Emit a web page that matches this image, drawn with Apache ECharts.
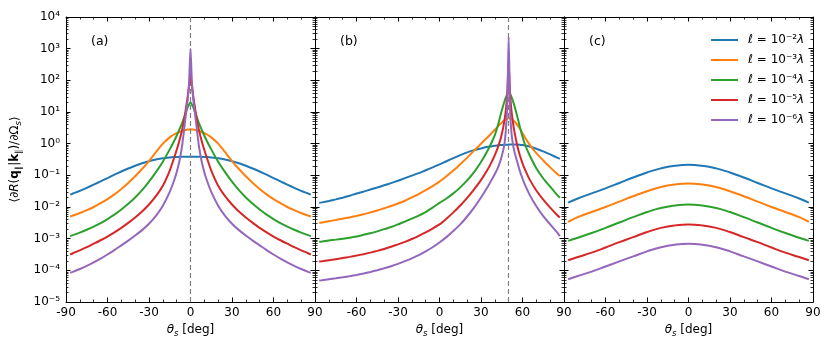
<!DOCTYPE html>
<html><head><meta charset="utf-8">
<script src="https://cdn.jsdelivr.net/npm/echarts@6/dist/echarts.min.js"></script>
<style>html,body{margin:0;padding:0;background:#fff}#c{width:830px;height:351px}</style>
</head><body><div id="c"></div>
<script>
// ---------------- data ----------------
const seriesNames = ['ℓ = 10⁻²λ', 'ℓ = 10⁻³λ', 'ℓ = 10⁻⁴λ', 'ℓ = 10⁻⁵λ', 'ℓ = 10⁻⁶λ'];
const panelLabels = ['(a)', '(b)', '(c)'];
const peakLines = [0, 50, null];

const thetaA = [-87,-85,-80,-75,-70,-65,-60,-55,-50,-45,-40,-35,-30,-25,-20,-15,-12,-10,-8,-6,-5,-4,-3,-2,-1,0,1,2,3,4,5,6,8,10,12,15,20,25,30,35,40,45,50,55,60,65,70,75,80,85,87];
const panelA_l2 = [0.0245,0.0266,0.0324,0.0403,0.0507,0.0646,0.0822,0.105,0.132,0.164,0.200,0.240,0.279,0.316,0.347,0.367,0.376,0.380,0.385,0.387,0.388,0.389,0.389,0.389,0.389,0.389,
  0.389,0.389,0.389,0.389,0.388,0.387,0.385,0.380,0.376,0.367,0.347,0.316,0.279,0.240,0.200,0.164,0.132,0.105,0.0822,0.0646,0.0507,0.0403,0.0324,0.0266,0.0245];
const panelA_l3 = [0.00501,0.00537,0.00646,0.00794,0.0100,0.0132,0.0178,0.0251,0.0372,0.0575,0.0933,0.158,0.282,0.537,1.00,1.58,1.95,2.14,2.34,2.51,2.60,2.69,2.75,2.79,2.82,2.84,
  2.82,2.79,2.75,2.69,2.60,2.51,2.34,2.14,1.95,1.58,1.00,0.537,0.282,0.158,0.0933,0.0575,0.0372,0.0251,0.0178,0.0132,0.0100,0.00794,0.00646,0.00537,0.00501];
const panelA_l4 = [1.20e-3,1.29e-3,1.55e-3,1.91e-3,2.40e-3,3.09e-3,4.17e-3,5.75e-3,8.32e-3,0.0126,0.0200,0.0339,0.0631,0.126,0.269,0.661,1.17,1.78,2.82,4.57,6.03,7.94,10.7,14.1,17.4,20.0,
  17.4,14.1,10.7,7.94,6.03,4.57,2.82,1.78,1.17,0.661,0.269,0.126,0.0631,0.0339,0.0200,0.0126,8.32e-3,5.75e-3,4.17e-3,3.09e-3,2.40e-3,1.91e-3,1.55e-3,1.29e-3,1.20e-3];
const panelA_l5 = [3.16e-4,3.47e-4,4.27e-4,5.37e-4,6.92e-4,8.91e-4,1.17e-3,1.58e-3,2.19e-3,3.16e-3,4.68e-3,7.24e-3,0.0120,0.0219,0.0468,0.141,0.339,0.631,1.26,2.82,4.79,8.32,15.8,31.6,67.6,155,
  67.6,31.6,15.8,8.32,4.79,2.82,1.26,0.631,0.339,0.141,0.0468,0.0219,0.0120,7.24e-3,4.68e-3,3.16e-3,2.19e-3,1.58e-3,1.17e-3,8.91e-4,6.92e-4,5.37e-4,4.27e-4,3.47e-4,3.16e-4];
const panelA_l6 = [8.32e-5,8.91e-5,1.10e-4,1.38e-4,1.78e-4,2.34e-4,3.16e-4,4.37e-4,6.17e-4,8.71e-4,1.26e-3,1.86e-3,2.95e-3,5.25e-3,0.0110,0.0302,0.0661,0.126,0.282,0.891,2.0,4.79,11.2,25.1,89.1,1000,
  89.1,25.1,11.2,4.79,2.0,0.891,0.282,0.126,0.0661,0.0302,0.0110,5.25e-3,2.95e-3,1.86e-3,1.26e-3,8.71e-4,6.17e-4,4.37e-4,3.16e-4,2.34e-4,1.78e-4,1.38e-4,1.10e-4,8.91e-5,8.32e-5];

const thetaB = [-87,-85,-80,-75,-70,-65,-60,-55,-50,-45,-40,-35,-30,-25,-20,-15,-10,-5,0,5,10,15,20,25,30,35,38,40,42,44,46,47,48,49,50,51,52,53,54,56,58,60,62,65,70,75,80,85,87];
const panelB_l2 = [0.0135,0.0140,0.0155,0.0174,0.0197,0.0226,0.0266,0.0305,0.0355,0.0412,0.0484,0.0569,0.0676,0.0813,0.0977,0.117,0.145,0.178,0.221,0.279,0.351,0.437,0.531,0.624,0.708,0.794,
  0.832,0.861,0.881,0.902,0.916,0.923,0.927,0.931,0.933,0.935,0.938,0.938,0.938,0.933,0.923,0.902,0.871,0.813,0.692,0.569,0.457,0.363,0.331];
const panelB_l3 = [3.16e-3,3.24e-3,3.55e-3,3.89e-3,4.27e-3,4.68e-3,5.25e-3,5.89e-3,6.76e-3,7.76e-3,9.12e-3,0.0107,0.0129,0.0158,0.0200,0.0257,0.0339,0.0457,0.0631,0.0933,0.141,0.224,0.363,0.603,1.00,1.62,
  2.24,2.75,3.39,4.27,5.13,5.50,5.89,6.17,6.31,6.31,6.03,5.62,5.13,4.07,3.02,2.14,1.51,0.955,0.501,0.295,0.178,0.112,0.0955];
const panelB_l4 = [7.94e-4,8.13e-4,8.71e-4,9.33e-4,1.00e-3,1.07e-3,1.17e-3,1.32e-3,1.48e-3,1.70e-3,2.00e-3,2.34e-3,2.82e-3,3.47e-3,4.27e-3,5.37e-3,6.92e-3,9.55e-3,0.0135,0.0186,0.0269,0.0417,0.0692,0.126,0.263,0.631,
  1.17,1.86,3.55,7.59,15.8,21.9,28.8,37.2,44.7,38.0,30.2,22.9,16.6,7.94,3.55,1.66,0.891,0.447,0.166,0.0794,0.0437,0.0240,0.0195];
const panelB_l5 = [1.91e-4,1.95e-4,2.09e-4,2.24e-4,2.45e-4,2.66e-4,2.92e-4,3.24e-4,3.63e-4,4.12e-4,4.73e-4,5.56e-4,6.61e-4,7.94e-4,9.77e-4,1.23e-3,1.58e-3,2.09e-3,2.82e-3,4.27e-3,6.76e-3,0.0112,0.0195,0.0363,0.0708,0.158,
  0.282,0.437,0.724,1.32,3.16,5.62,12.0,39.8,339,39.8,11.2,5.01,2.63,0.955,0.437,0.240,0.145,0.0759,0.0331,0.0170,9.55e-3,5.62e-3,4.68e-3];
const panelB_l6 = [4.79e-5,4.90e-5,5.25e-5,5.62e-5,6.03e-5,6.53e-5,7.16e-5,7.94e-5,8.91e-5,1.01e-4,1.16e-4,1.35e-4,1.60e-4,1.95e-4,2.40e-4,3.02e-4,3.98e-4,5.37e-4,7.59e-4,1.12e-3,1.74e-3,2.82e-3,5.01e-3,9.55e-3,0.0200,0.0447,
  0.0759,0.110,0.166,0.282,0.603,1.00,2.82,17.8,2340,12.6,2.24,1.00,0.603,0.282,0.141,0.0794,0.0479,0.0251,0.0105,5.13e-3,2.82e-3,1.58e-3,1.20e-3];

const thetaC = [-87,-80,-70,-60,-50,-40,-30,-20,-10,0,10,20,30,40,50,60,70,80,87];
const panelC_l2 = [0.0138,0.0186,0.0269,0.0389,0.0575,0.0851,0.123,0.166,0.200,0.214,0.200,0.166,0.123,0.0851,0.0575,0.0389,0.0269,0.0186,0.0138];
const panelC_l3 = [3.39e-3,4.79e-3,6.92e-3,0.0100,0.0148,0.0219,0.0316,0.0427,0.0513,0.0550,0.0513,0.0427,0.0316,0.0219,0.0148,0.0100,6.92e-3,4.79e-3,3.39e-3];
const panelC_l4 = [8.51e-4,1.07e-3,1.51e-3,2.19e-3,3.24e-3,4.79e-3,6.92e-3,9.33e-3,0.0111,0.0119,0.0111,9.33e-3,6.92e-3,4.79e-3,3.24e-3,2.19e-3,1.51e-3,1.07e-3,8.51e-4];
const panelC_l5 = [2.09e-4,2.63e-4,3.63e-4,5.25e-4,7.76e-4,1.12e-3,1.62e-3,2.19e-3,2.63e-3,2.82e-3,2.63e-3,2.19e-3,1.62e-3,1.12e-3,7.76e-4,5.25e-4,3.63e-4,2.63e-4,2.09e-4];
const panelC_l6 = [5.25e-5,6.61e-5,9.12e-5,1.32e-4,1.91e-4,2.75e-4,3.98e-4,5.37e-4,6.46e-4,6.92e-4,6.46e-4,5.37e-4,3.98e-4,2.75e-4,1.91e-4,1.32e-4,9.12e-5,6.61e-5,5.25e-5];

const yDecades = [1e-5,1e-4,1e-3,1e-2,1e-1,1,1e1,1e2,1e3];
const yMinorMultipliers = [2,3,4,5,6,7,8,9];

// ---------------- build ----------------
const panels = [
  {x: thetaA, ys: [panelA_l2, panelA_l3, panelA_l4, panelA_l5, panelA_l6], smooth: 0.2},
  {x: thetaB, ys: [panelB_l2, panelB_l3, panelB_l4, panelB_l5, panelB_l6], smooth: 0.2},
  {x: thetaC, ys: [panelC_l2, panelC_l3, panelC_l4, panelC_l5, panelC_l6], smooth: 0.5}
];
const colors = ['#1f77b4', '#ff7f0e', '#2ca02c', '#d62728', '#9467bd'];
const FF = 'DejaVu Sans';
const minorVals = [];
yDecades.forEach(d => yMinorMultipliers.forEach(m => minorVals.push(m * d)));

const supMap = {'-': '⁻', '0': '⁰', '1': '¹', '2': '²', '3': '³', '4': '⁴', '5': '⁵', '6': '⁶', '7': '⁷', '8': '⁸', '9': '⁹'};
function logLabel(v) {
  const e = Math.round(Math.log10(v));
  return '10' + String(e).split('').map(c => supMap[c]).join('');
}

const grids = [
  {left: 66, top: 17, width: 249, height: 285},
  {left: 315, top: 17, width: 249, height: 285},
  {left: 564, top: 17, width: 249, height: 285}
];

const xAxes = [], yAxes = [], series = [];
const tickStyle = {color: '#000', width: 1};
const minorStyle = {color: '#000', width: 0.8};
const xNameRich = {
  it: {fontFamily: FF, fontSize: 12, fontStyle: 'italic', color: '#000', lineHeight: 16},
  sub: {fontFamily: FF, fontSize: 8.5, fontStyle: 'italic', color: '#000', lineHeight: 11, verticalAlign: 'bottom'},
  n: {fontFamily: FF, fontSize: 12, color: '#000', lineHeight: 16}
};
const yNameRich = {
  n: {fontFamily: FF, fontSize: 12, color: '#000', lineHeight: 16},
  i: {fontFamily: FF, fontSize: 12, fontStyle: 'italic', color: '#000', lineHeight: 16},
  b: {fontFamily: FF, fontSize: 12, fontWeight: 'bold', color: '#000', lineHeight: 16},
  s: {fontFamily: FF, fontSize: 8.5, color: '#000', lineHeight: 11, verticalAlign: 'bottom'},
  si: {fontFamily: FF, fontSize: 8.5, fontStyle: 'italic', color: '#000', lineHeight: 11, verticalAlign: 'bottom'}
};

panels.forEach((p, g) => {
  const xBase = {
    gridIndex: g, type: 'value', min: -90, max: 90, interval: 30,
    axisLine: {show: true, onZero: false, lineStyle: {color: '#000', width: 1}},
    axisTick: {show: true, inside: true, length: 4.5, lineStyle: tickStyle},
    minorTick: {show: true, splitNumber: 3, length: 2.5, lineStyle: minorStyle},
    splitLine: {show: false}, minorSplitLine: {show: false}
  };
  xAxes.push(Object.assign({}, xBase, {
    position: 'bottom',
    axisLabel: {show: true, color: '#000', fontFamily: FF, fontSize: 12, margin: 5, showMinLabel: g === 0, showMaxLabel: true, hideOverlap: false,
      formatter: v => String(v)},
    name: '{it|θ}{sub|s}{n| [deg]}', nameLocation: 'middle', nameGap: 19,
    nameTextStyle: {rich: xNameRich}
  }));
  xAxes.push(Object.assign({}, xBase, {position: 'top', axisLabel: {show: false}}));

  const yBase = {gridIndex: g, type: 'log', logBase: 10, min: 1e-5, max: 1e4, splitLine: {show: false}};
  const yLeft = Object.assign({}, yBase, {
    position: 'left',
    axisLine: {show: true, onZero: false, lineStyle: {color: '#000', width: 1}},
    axisTick: {show: true, inside: true, length: 4.5, lineStyle: tickStyle},
    axisLabel: {show: g === 0, color: '#000', fontFamily: FF, fontSize: 12, margin: 6, formatter: logLabel, hideOverlap: false}
  });
  if (g === 0) {
    Object.assign(yLeft, {
      name: '{n|⟨∂}{i|R}{n|(}{b|q}{s|∥}{n||}{b|k}{s|∥}{n|)/∂Ω}{si|s}{n|⟩}',
      nameLocation: 'middle', nameRotate: 90, nameGap: 43,
      nameTextStyle: {rich: yNameRich}
    });
  }
  yAxes.push(yLeft);
  yAxes.push(Object.assign({}, yBase, {
    position: 'left', axisLine: {show: false, onZero: false},
    axisTick: {show: true, inside: true, length: 2.5, lineStyle: minorStyle, customValues: minorVals},
    axisLabel: {show: false}
  }));
  yAxes.push(Object.assign({}, yBase, {
    position: 'right',
    axisLine: {show: true, onZero: false, lineStyle: {color: '#000', width: 1}},
    axisTick: {show: true, inside: true, length: 4.5, lineStyle: tickStyle},
    axisLabel: {show: false}
  }));
  yAxes.push(Object.assign({}, yBase, {
    position: 'right', axisLine: {show: false, onZero: false},
    axisTick: {show: true, inside: true, length: 2.5, lineStyle: minorStyle, customValues: minorVals},
    axisLabel: {show: false}
  }));

  p.ys.forEach((vals, i) => {
    const s = {
      type: 'line', name: seriesNames[i], xAxisIndex: 2 * g, yAxisIndex: 4 * g,
      data: p.x.map((t, j) => [t, vals[j]]),
      showSymbol: false, symbol: 'none', smooth: p.smooth,
      lineStyle: {width: 2, color: colors[i]}, itemStyle: {color: colors[i]},
      emphasis: {disabled: true}, animation: false, z: 2 + i
    };
    if (i === 4 && peakLines[g] !== null) {
      s.markLine = {
        silent: true, symbol: 'none', animation: false,
        label: {show: false},
        lineStyle: {color: '#808080', type: [5, 3], width: 1.2},
        data: [{xAxis: peakLines[g]}]
      };
    }
    series.push(s);
  });
});

const graphics = panelLabels.map((t, g) => ({
  type: 'text', left: [91, 340, 589][g], top: 35,
  style: {text: t, fontFamily: FF, fontSize: 12.5, fill: '#000'}
}));

const chart = echarts.init(document.getElementById('c'), null, {renderer: 'canvas'});
chart.setOption({
  animation: false,
  backgroundColor: '#fff',
  color: colors,
  grid: grids,
  xAxis: xAxes,
  yAxis: yAxes,
  series: series,
  graphic: graphics,
  legend: {
    show: true, orient: 'vertical', left: 706, top: 27,
    itemWidth: 27, itemHeight: 2, itemGap: 4, icon: 'rect',
    data: seriesNames,
    formatter: n => n.replace('ℓ', '{i|ℓ}').replace('λ', '{i|λ}'),
    textStyle: {fontFamily: FF, fontSize: 12, color: '#000', lineHeight: 16, padding: [0, 0, 0, 5],
      rich: {i: {fontFamily: FF, fontSize: 12, fontStyle: 'italic', color: '#000', lineHeight: 16}}}
  },
  tooltip: {show: false}
});
</script>
</body></html>
